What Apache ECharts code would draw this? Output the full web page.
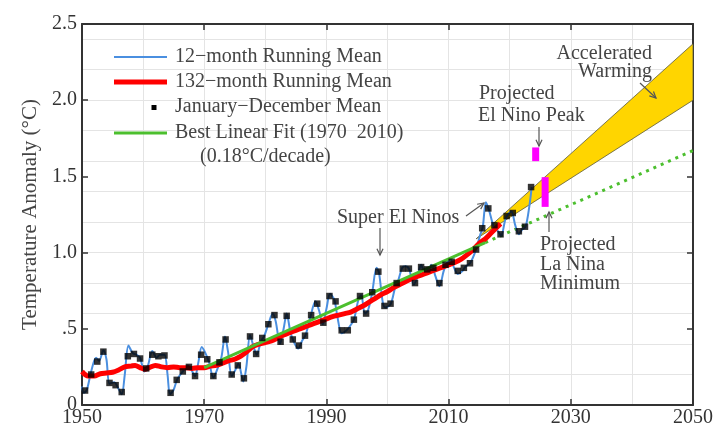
<!DOCTYPE html>
<html>
<head>
<meta charset="utf-8">
<script src="https://cdn.jsdelivr.net/npm/echarts@6/dist/echarts.min.js"></script>
<style>html,body{margin:0;padding:0;background:#fff}#c{width:716px;height:428px}</style>
</head>
<body>
<div id="c"></div>
<script>
// ---- data ----
const annualYears = [1950,1951,1952,1953,1954,1955,1956,1957,1958,1959,1960,1961,1962,1963,1964,1965,1966,1967,1968,1969,
  1970,1971,1972,1973,1974,1975,1976,1977,1978,1979,1980,1981,1982,1983,1984,1985,1986,1987,1988,1989,
  1990,1991,1992,1993,1994,1995,1996,1997,1998,1999,2000,2001,2002,2003,2004,2005,2006,2007,2008,2009,
  2010,2011,2012,2013,2014,2015,2016,2017,2018,2019,2020,2021,2022,2023];
const annualMeans = [0.095,0.20,0.285,0.35,0.145,0.13,0.085,0.32,0.335,0.305,0.24,0.33,0.32,0.325,0.08,0.165,0.22,0.25,0.19,0.33,
  0.30,0.19,0.28,0.43,0.20,0.26,0.175,0.45,0.335,0.44,0.53,0.59,0.415,0.585,0.43,0.39,0.455,0.59,0.665,0.54,
  0.715,0.68,0.49,0.49,0.56,0.715,0.60,0.74,0.875,0.65,0.665,0.80,0.895,0.895,0.80,0.905,0.89,0.90,0.80,0.92,
  0.94,0.88,0.90,0.93,1.02,1.16,1.29,1.18,1.12,1.24,1.26,1.14,1.17,1.43];

const run12 = [[1950.0,0.12],[1950.3,0.08],[1950.8,0.10],[1951.5,0.22],[1952.3,0.31],[1952.8,0.29],[1953.5,0.36],[1954.0,0.30],
  [1954.5,0.14],[1955.3,0.15],[1955.8,0.12],[1956.5,0.07],[1957.0,0.20],[1957.6,0.39],[1958.3,0.34],[1958.9,0.33],[1959.5,0.31],
  [1960.2,0.22],[1960.8,0.26],[1961.5,0.355],[1962.2,0.31],[1962.8,0.33],[1963.5,0.33],[1964.0,0.20],[1964.4,0.07],[1965.0,0.10],
  [1965.6,0.17],[1966.5,0.22],[1967.3,0.26],[1967.9,0.23],[1968.5,0.19],[1969.0,0.27],[1969.6,0.38],[1970.2,0.34],[1970.8,0.28],
  [1971.5,0.18],[1972.2,0.24],[1972.8,0.31],[1973.4,0.45],[1973.9,0.35],[1974.5,0.19],[1975.1,0.23],[1975.6,0.27],[1976.4,0.155],
  [1976.9,0.25],[1977.5,0.46],[1978.1,0.38],[1978.6,0.33],[1979.3,0.42],[1979.8,0.45],[1980.5,0.53],[1981.2,0.60],[1981.7,0.55],
  [1982.4,0.40],[1983.0,0.50],[1983.5,0.60],[1984.1,0.48],[1984.6,0.42],[1985.4,0.37],[1986.0,0.42],[1986.6,0.46],[1987.4,0.58],
  [1988.2,0.68],[1988.8,0.62],[1989.4,0.53],[1990.0,0.63],[1990.6,0.73],[1991.3,0.69],[1991.8,0.58],[1992.5,0.47],[1993.3,0.49],
  [1993.9,0.52],[1994.5,0.56],[1995.3,0.70],[1995.7,0.72],[1996.3,0.60],[1996.8,0.62],[1997.5,0.74],[1998.2,0.90],[1998.6,0.87],
  [1999.2,0.68],[1999.6,0.64],[2000.5,0.66],[2001.3,0.78],[2001.7,0.81],[2002.4,0.90],[2002.9,0.91],[2003.5,0.895],[2004.3,0.79],
  [2004.9,0.84],[2005.5,0.92],[2006.0,0.88],[2006.6,0.89],[2007.2,0.92],[2007.8,0.85],[2008.5,0.78],[2009.2,0.88],[2009.7,0.93],
  [2010.3,0.96],[2010.9,0.90],[2011.5,0.86],[2012.3,0.88],[2012.8,0.91],[2013.5,0.93],[2014.4,1.01],[2015.2,1.12],[2015.6,1.17],
  [2016.1,1.33],[2016.6,1.28],[2017.4,1.17],[2018.1,1.14],[2018.6,1.11],[2019.3,1.22],[2019.9,1.26],[2020.3,1.27],[2020.9,1.18],
  [2021.5,1.12],[2022.0,1.15],[2022.6,1.17],[2023.2,1.30],[2023.6,1.43]];

const run132 = [[1950.0,0.22],[1951.0,0.19],[1952.0,0.19],[1953.0,0.205],[1954.0,0.21],[1955.0,0.215],[1956.0,0.23],[1957.0,0.25],
  [1958.0,0.255],[1958.7,0.26],[1959.5,0.245],[1960.3,0.235],[1961.0,0.245],[1962.0,0.26],[1963.0,0.25],[1964.0,0.245],[1965.0,0.25],
  [1966.0,0.245],[1967.0,0.245],[1968.0,0.24],[1969.0,0.245],[1970.0,0.245],[1971.0,0.255],[1972.0,0.26],[1973.0,0.275],[1974.0,0.29],
  [1975.0,0.30],[1976.0,0.32],[1977.0,0.35],[1978.0,0.385],[1979.0,0.40],[1980.0,0.41],[1981.0,0.42],[1982.0,0.44],[1983.0,0.46],
  [1984.0,0.475],[1985.0,0.49],[1986.0,0.505],[1987.0,0.52],[1988.0,0.535],[1989.0,0.55],[1990.0,0.565],[1991.0,0.58],[1992.0,0.59],
  [1993.0,0.60],[1994.0,0.61],[1995.0,0.63],[1996.0,0.65],[1997.0,0.675],[1998.0,0.70],[1999.0,0.725],[2000.0,0.745],[2001.0,0.77],
  [2002.0,0.79],[2003.0,0.81],[2004.0,0.83],[2005.0,0.845],[2006.0,0.86],[2007.0,0.875],[2008.0,0.89],[2009.0,0.905],[2010.0,0.92],
  [2011.0,0.935],[2012.0,0.955],[2013.0,0.985],[2014.0,1.02],[2015.0,1.06],[2016.0,1.09],[2017.0,1.13],[2018.0,1.17],[2018.5,1.19]];

const fitSolid = [[1970,0.245],[2016,1.065]];
const fitDotted = [[2016,1.065],[2050,1.67]];
const bandPoly = [[2014.5,1.09],[2050,2.37],[2050,2.0]];
const projBars = [[2024.25,1.60,1.69],[2025.8,1.30,1.495]];

const xTickLabels = [1950,1970,1990,2010,2030,2050];
const yTickLabels = {0:'0',0.5:'.5',1:'1.0',1.5:'1.5',2:'2.0',2.5:'2.5'};

// ---- chart ----
const FONT = '"Liberation Serif", "DejaVu Serif", serif';
const TXT = '#444';
const AX = '#333';
const chart = echarts.init(document.getElementById('c'), null, {renderer:'canvas'});

function arrow(x1,y1,x2,y2){
  const a = Math.atan2(y2-y1,x2-x1), L=7, w=0.45;
  return [
    {type:'line',shape:{x1,y1,x2,y2},style:{stroke:'#555',lineWidth:1.2},z:100},
    {type:'polyline',shape:{points:[[x2-L*Math.cos(a-w),y2-L*Math.sin(a-w)],[x2,y2],[x2-L*Math.cos(a+w),y2-L*Math.sin(a+w)]]},
     style:{stroke:'#555',lineWidth:1.2,fill:null},z:100}
  ];
}
function txt(x,y,t,align){
  return {type:'text',x,y,z:100,style:{text:t,font:'20px '+FONT,fill:TXT,textAlign:align||'left',textVerticalAlign:'middle'}};
}

const graphics = [
  // legend
  {type:'line',shape:{x1:114,y1:57,x2:167,y2:57},style:{stroke:'#4a8fe0',lineWidth:2},z:100},
  txt(175,57,'12−month Running Mean'),
  {type:'line',shape:{x1:114,y1:82,x2:167,y2:82},style:{stroke:'#ff0000',lineWidth:5},z:100},
  txt(175,82,'132−month Running Mean'),
  {type:'rect',shape:{x:151.5,y:105,width:5,height:5},style:{fill:'#000'},z:100},
  txt(175,107,'January−December Mean'),
  {type:'line',shape:{x1:114,y1:133,x2:167,y2:133},style:{stroke:'#4cbf2e',lineWidth:3},z:100},
  txt(175,133,'Best Linear Fit (1970  2010)'),
  txt(200,157,'(0.18°C/decade)'),
  // annotations
  txt(337,218,'Super El Ninos'),
  ...arrow(380,228,380,255),
  ...arrow(466,216,484,203),
  txt(479,94,'Projected'),
  txt(478,116,'El Nino Peak'),
  ...arrow(539,127,539,146),
  txt(540,245,'Projected'),
  txt(540,265,'La Nina'),
  txt(540,284,'Minimum'),
  ...arrow(549,232,549,212),
  txt(652,54,'Accelerated','right'),
  txt(652,72,'Warming','right'),
  ...arrow(640,83,656,98)
];

const baseX = {type:'value',min:1950,max:2050,gridIndex:0};
const baseY = {type:'value',min:0,max:2.5,gridIndex:0};

chart.setOption({
  animation:false,
  backgroundColor:'#fff',
  grid:{left:82,right:17,top:24,bottom:21,containLabel:false},
  xAxis:[
    Object.assign({},baseX,{position:'bottom',interval:20,
      axisLine:{show:true,onZero:false,lineStyle:{color:AX,width:2}},
      axisTick:{show:true,inside:true,length:6,lineStyle:{color:AX,width:1.5}},
      axisLabel:{show:true,margin:3,fontFamily:FONT,fontSize:20,color:AX,
        formatter:v=>xTickLabels.includes(Math.round(v))?String(Math.round(v)):''},
      splitLine:{show:false}}),
    Object.assign({},baseX,{position:'top',interval:20,
      axisLine:{show:true,onZero:false,lineStyle:{color:AX,width:2}},
      axisTick:{show:true,inside:true,length:6,lineStyle:{color:AX,width:1.5}},
      axisLabel:{show:false},splitLine:{show:false}}),
    Object.assign({},baseX,{position:'bottom',interval:10,
      axisLine:{show:false},axisTick:{show:false},axisLabel:{show:false},
      splitLine:{show:true,lineStyle:{color:'#e4e4e4',width:1}}})
  ],
  yAxis:[
    Object.assign({},baseY,{position:'left',interval:0.5,
      name:'Temperature Anomaly (°C)',nameLocation:'middle',nameGap:40,nameRotate:90,
      nameTextStyle:{fontFamily:FONT,fontSize:21,color:TXT},
      axisLine:{show:true,onZero:false,lineStyle:{color:AX,width:2}},
      axisTick:{show:true,inside:true,length:6,lineStyle:{color:AX,width:1.5}},
      axisLabel:{show:true,margin:5,fontFamily:FONT,fontSize:20,color:AX,
        formatter:v=>{const k=Math.round(v*2)/2;return yTickLabels[k]!==undefined?yTickLabels[k]:'';}},
      splitLine:{show:false}}),
    Object.assign({},baseY,{position:'right',interval:0.5,
      axisLine:{show:true,onZero:false,lineStyle:{color:AX,width:2}},
      axisTick:{show:true,inside:true,length:6,lineStyle:{color:AX,width:1.5}},
      axisLabel:{show:false},splitLine:{show:false}}),
    Object.assign({},baseY,{position:'left',interval:0.2,
      axisLine:{show:false},axisTick:{show:false},axisLabel:{show:false},
      splitLine:{show:true,lineStyle:{color:'#e4e4e4',width:1}}})
  ],
  graphic:graphics,
  series:[
    {type:'custom',name:'band',xAxisIndex:0,yAxisIndex:0,z:1,data:bandPoly,
      renderItem:(params,api)=>{
        if(params.dataIndex!==0) return null;
        return {type:'polygon',shape:{points:bandPoly.map(p=>api.coord(p))},
          style:{fill:'#ffd500',stroke:'#5a5a40',lineWidth:0.8}};
      }},
    {type:'line',name:'fitDotted',xAxisIndex:0,yAxisIndex:0,z:2,data:fitDotted,symbol:'none',
      lineStyle:{color:'#4cbf2e',width:3,type:[3,5]}},
    {type:'line',name:'12-month',xAxisIndex:0,yAxisIndex:0,z:3,data:run12,symbol:'none',smooth:0.3,
      lineStyle:{color:'#4a8fe0',width:2}},
    {type:'line',name:'132-month',xAxisIndex:0,yAxisIndex:0,z:4,data:run132,symbol:'none',smooth:0.3,
      lineStyle:{color:'#ff0000',width:5}},
    {type:'line',name:'fit',xAxisIndex:0,yAxisIndex:0,z:5,data:fitSolid,symbol:'none',
      lineStyle:{color:'#4cbf2e',width:3}},
    {type:'scatter',name:'annual',xAxisIndex:0,yAxisIndex:0,z:6,
      data:annualYears.map((y,i)=>[y+0.5,annualMeans[i]]),symbol:'rect',symbolSize:6.5,
      itemStyle:{color:'#000'}},
    {type:'custom',name:'proj',xAxisIndex:0,yAxisIndex:0,z:7,data:projBars,
      renderItem:(params,api)=>{
        const t=api.coord([api.value(0),api.value(2)]);
        const b=api.coord([api.value(0),api.value(1)]);
        return {type:'rect',shape:{x:t[0]-3.5,y:t[1],width:7,height:b[1]-t[1]},style:{fill:'#ff00ff'}};
      }}
  ]
});
</script>
</body>
</html>
